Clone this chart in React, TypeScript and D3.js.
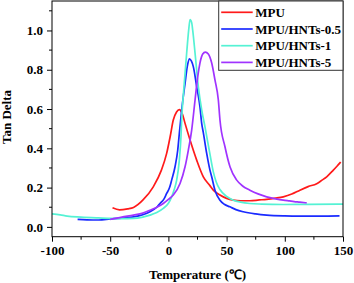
import * as d3 from "d3";
import { useEffect, useRef } from "react";

// series (temperature in °C, tan delta)
const mpuT = [-48, -42, -35, -30, -22, -13, -6, -1.5, 1.5, 4.2, 7, 9.4, 12, 14.3, 18.6, 24.3, 30, 35.7, 38.6, 44.3, 50, 55.8, 62, 70, 78, 84.4, 92, 98.7, 106, 113, 120, 127.4, 132, 136, 141.7, 145, 148];
const mpuV = [0.097, 0.087, 0.092, 0.099, 0.136, 0.204, 0.289, 0.374, 0.459, 0.544, 0.585, 0.597, 0.575, 0.527, 0.442, 0.34, 0.255, 0.21, 0.187, 0.162, 0.145, 0.136, 0.133, 0.133, 0.137, 0.14, 0.146, 0.153, 0.167, 0.187, 0.205, 0.22, 0.238, 0.255, 0.289, 0.31, 0.33];

const h05T = [-78, -70, -60, -50, -40, -30, -22, -15.8, -10, -7.2, -4, -1.5, 1, 2.8, 5.7, 8, 9.4, 11.4, 14.3, 16.2, 18, 19.7, 21.4, 24.3, 27.1, 28.6, 30, 32.9, 35.7, 37.2, 40, 44.3, 48, 52.9, 58, 64.3, 75, 84.4, 100, 113, 130, 147];
const h05V = [0.038, 0.036, 0.035, 0.04, 0.045, 0.051, 0.062, 0.077, 0.1, 0.119, 0.14, 0.17, 0.2, 0.238, 0.306, 0.39, 0.476, 0.595, 0.73, 0.816, 0.856, 0.845, 0.816, 0.714, 0.612, 0.527, 0.48, 0.374, 0.289, 0.255, 0.187, 0.136, 0.115, 0.102, 0.088, 0.077, 0.066, 0.06, 0.056, 0.055, 0.055, 0.056];

const h1T = [-100, -93, -87, -75, -62, -50, -40, -30, -22, -15.8, -10, -4.4, 0, 2.8, 5, 7.1, 9.4, 10.8, 11.4, 13.4, 15.7, 17.4, 18.6, 20, 20.9, 22.9, 25.7, 28.6, 31.4, 35.7, 38.6, 41, 44.3, 50, 55.8, 62, 70, 80, 98.7, 120, 150];
const h1V = [0.066, 0.061, 0.055, 0.05, 0.046, 0.043, 0.042, 0.043, 0.05, 0.06, 0.073, 0.094, 0.12, 0.153, 0.19, 0.238, 0.34, 0.459, 0.544, 0.714, 0.885, 1.0, 1.055, 1.04, 1.0, 0.885, 0.714, 0.595, 0.51, 0.37, 0.28, 0.23, 0.19, 0.155, 0.136, 0.126, 0.119, 0.116, 0.114, 0.115, 0.116];

const h5T = [-50, -40, -30, -22, -15.8, -10, -4.4, 0, 4.2, 10, 14.3, 17.1, 20, 22.9, 25.2, 27.1, 29.5, 31.7, 34.3, 37.2, 40, 42.9, 44.3, 48.6, 52.9, 58.7, 64, 70, 77, 84.4, 92, 98.7, 104, 108, 113, 118.8];
const h5V = [0.038, 0.05, 0.06, 0.07, 0.085, 0.1, 0.119, 0.14, 0.162, 0.221, 0.306, 0.39, 0.493, 0.646, 0.765, 0.834, 0.88, 0.89, 0.88, 0.834, 0.748, 0.646, 0.544, 0.408, 0.306, 0.238, 0.207, 0.187, 0.168, 0.153, 0.143, 0.136, 0.132, 0.129, 0.126, 0.122];

const seriesNames = ["MPU", "MPU/HNTs-0.5", "MPU/HNTs-1", "MPU/HNTs-5"];
const seriesColors = ["#ff1a1a", "#1a2bff", "#55f2d4", "#a033ff"];
const xTicks = [-100, -50, 0, 50, 100, 150];
const yTicks = [0.0, 0.2, 0.4, 0.6, 0.8, 1.0];

const W = 354;
const H = 283;

export default function App() {
	const svgRef = useRef(null);

	useEffect(() => {
		const margin = { top: 1, right: 11, bottom: 46.3, left: 52 };
		const width = W - margin.left - margin.right;
		const height = H - margin.top - margin.bottom;
		const font = "'Liberation Serif', 'Times New Roman', serif";

		const svg = d3.select(svgRef.current).html("");
		const g = svg.append("g").attr("transform", `translate(${margin.left},${margin.top})`);

		const x = d3.scaleLinear().domain([-100, 150]).range([0, width]);
		const y = d3.scaleLinear().domain([-0.05, 1.15]).range([height, 0]);

		const series = [
			{ t: mpuT, v: mpuV },
			{ t: h05T, v: h05V },
			{ t: h1T, v: h1V },
			{ t: h5T, v: h5V },
		];

		const line = d3
			.line()
			.x((d) => x(d[0]))
			.y((d) => y(d[1]))
			.curve(d3.curveMonotoneX);

		series.forEach((s, i) => {
			g.append("path")
				.datum(s.t.map((t, j) => [t, s.v[j]]))
				.attr("fill", "none")
				.attr("stroke", seriesColors[i])
				.attr("stroke-width", 1.7)
				.attr("d", line);
		});

		// minor ticks
		const xMinor = [-75, -25, 25, 75, 125];
		const yMinor = [0.1, 0.3, 0.5, 0.7, 0.9, 1.1];
		g.selectAll(".xminor")
			.data(xMinor)
			.enter()
			.append("line")
			.attr("x1", (d) => x(d))
			.attr("x2", (d) => x(d))
			.attr("y1", height)
			.attr("y2", height + 3)
			.attr("stroke", "#000");
		g.selectAll(".yminor")
			.data(yMinor)
			.enter()
			.append("line")
			.attr("x1", -3)
			.attr("x2", 0)
			.attr("y1", (d) => y(d))
			.attr("y2", (d) => y(d))
			.attr("stroke", "#000");

		// axes
		const xAxis = g
			.append("g")
			.attr("transform", `translate(0,${height})`)
			.call(d3.axisBottom(x).tickValues(xTicks).tickSize(5).tickPadding(4).tickFormat(d3.format("d")));
		const yAxis = g
			.append("g")
			.call(d3.axisLeft(y).tickValues(yTicks).tickSize(5).tickPadding(4).tickFormat(d3.format(".1f")));
		[xAxis, yAxis].forEach((a) => {
			a.select(".domain").remove();
			a.selectAll("text")
				.attr("font-family", font)
				.attr("font-weight", "bold")
				.attr("font-size", 13)
				.attr("fill", "#000");
		});
		xAxis.selectAll("text").text((d) => (d < 0 ? "-" + Math.abs(d) : String(d)));

		// frame
		g.append("rect")
			.attr("width", width)
			.attr("height", height)
			.attr("fill", "none")
			.attr("stroke", "#000")
			.attr("stroke-width", 1);

		// legend
		const lx = 218.7 - margin.left;
		const legend = g.append("g");
		legend
			.append("rect")
			.attr("x", lx)
			.attr("y", 0)
			.attr("width", width - lx)
			.attr("height", 69.3)
			.attr("fill", "#fff")
			.attr("stroke", "#333");
		seriesNames.forEach((name, i) => {
			const cy = 11.3 + i * 16.7;
			legend
				.append("line")
				.attr("x1", lx + 2.5)
				.attr("x2", lx + 34)
				.attr("y1", cy)
				.attr("y2", cy)
				.attr("stroke", seriesColors[i])
				.attr("stroke-width", 1.7);
			legend
				.append("text")
				.attr("x", lx + 36.5)
				.attr("y", cy + 4.5)
				.attr("font-family", font)
				.attr("font-weight", "bold")
				.attr("font-size", 13)
				.text(name);
		});

		// axis titles
		svg.append("text")
			.attr("x", 197.5)
			.attr("y", 279)
			.attr("text-anchor", "middle")
			.attr("font-family", font)
			.attr("font-weight", "bold")
			.attr("font-size", 13)
			.text("Temperature (\u2103)");
		svg.append("text")
			.attr("transform", "translate(11,117) rotate(-90)")
			.attr("text-anchor", "middle")
			.attr("font-family", font)
			.attr("font-weight", "bold")
			.attr("font-size", 13)
			.text("Tan Delta");
	}, []);

	return (
		<div style={{ position: "absolute", left: 0, top: 0, width: W, height: H, background: "#fff" }}>
			<svg ref={svgRef} width={W} height={H}></svg>
		</div>
	);
}
